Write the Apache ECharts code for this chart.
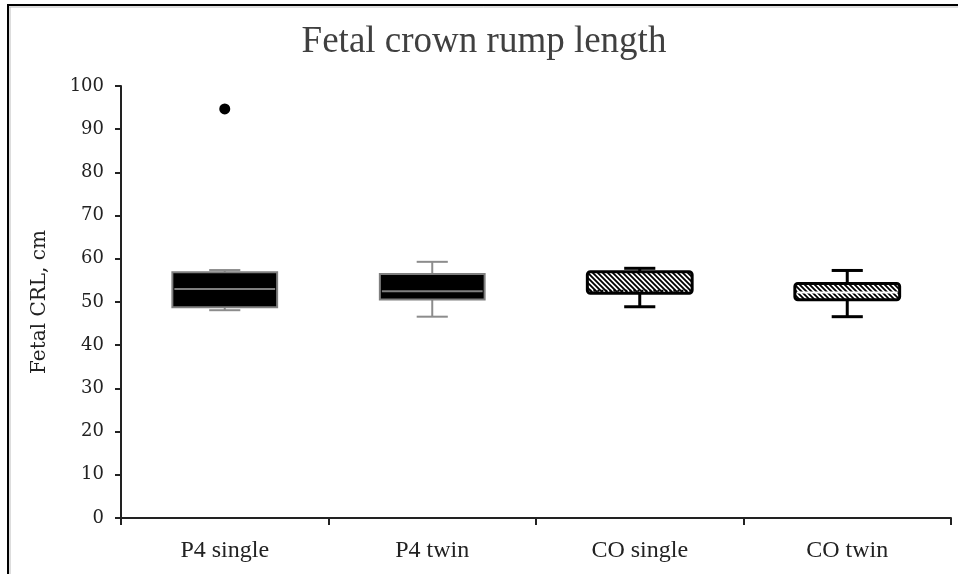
<!DOCTYPE html>
<html>
<head>
<meta charset="utf-8">
<script src="https://cdn.jsdelivr.net/npm/echarts@6/dist/echarts.min.js"></script>
<style>
html,body{margin:0;padding:0;background:#fff;}
#chart{width:958px;height:574px;}
</style>
</head>
<body>
<div id="chart"></div>
<script>
// ---- Data ----
const categories = ['P4 single', 'P4 twin', 'CO single', 'CO twin'];
const whiskerLow  = [48.1, 46.6, 48.9, 46.6];
const quartile1   = [48.8, 50.6, 52.0, 50.5];
const medians     = [53.0, 52.5, 52.6, 52.2];
const quartile3   = [56.9, 56.5, 57.0, 54.3];
const whiskerHigh = [57.4, 59.3, 57.8, 57.3];
const outliers    = [[0, 94.7]];
const yTicks = { min: 0, max: 100, interval: 10 };

// ---- Styles ----
function makeHatch() {
  const c = document.createElement('canvas');
  const s = 5;
  c.width = s; c.height = s;
  const g = c.getContext('2d');
  g.fillStyle = '#ffffff';
  g.fillRect(0, 0, s, s);
  g.strokeStyle = '#000000';
  g.lineWidth = 1.8;
  g.beginPath();
  for (let k = -1; k <= 1; k++) {
    g.moveTo(k * s - 1, -1);
    g.lineTo(k * s + s + 1, s + 1);
  }
  g.stroke();
  return c;
}
const hatch = { image: makeHatch(), repeat: 'repeat' };
const boxStyles = [
  { fill: '#000000', stroke: '#7f7f7f', lw: 2, whisker: '#8c8c8c', wlw: 2, med: '#7f7f7f', medDash: null, r: 0 },
  { fill: '#000000', stroke: '#7f7f7f', lw: 2, whisker: '#8c8c8c', wlw: 2, med: '#7f7f7f', medDash: null, r: 0 },
  { fill: hatch, stroke: '#000000', lw: 3, whisker: '#000000', wlw: 3, med: '#000000', medDash: [2, 2], r: 3 },
  { fill: hatch, stroke: '#000000', lw: 3, whisker: '#000000', wlw: 3, med: '#ffffff', medDash: null, r: 3 }
];

const boxData = categories.map((c, i) => [i, whiskerLow[i], quartile1[i], medians[i], quartile3[i], whiskerHigh[i]]);

function renderBox(params, api) {
  const i = api.value(0);
  const st = boxStyles[i];
  const band = api.size([1, 0])[0];
  const boxW = band * 0.505;
  const capW = band * 0.15;
  const cx = api.coord([i, 0])[0];
  const yLow = api.coord([i, api.value(1)])[1];
  const yQ1 = api.coord([i, api.value(2)])[1];
  const yMed = api.coord([i, api.value(3)])[1];
  const yQ3 = api.coord([i, api.value(4)])[1];
  const yHigh = api.coord([i, api.value(5)])[1];
  const wStyle = { stroke: st.whisker, lineWidth: st.wlw };
  return {
    type: 'group',
    children: [
      { type: 'line', shape: { x1: cx, y1: yHigh, x2: cx, y2: yQ3 }, style: wStyle },
      { type: 'line', shape: { x1: cx, y1: yQ1, x2: cx, y2: yLow }, style: wStyle },
      { type: 'line', shape: { x1: cx - capW / 2, y1: yHigh, x2: cx + capW / 2, y2: yHigh }, style: wStyle },
      { type: 'line', shape: { x1: cx - capW / 2, y1: yLow, x2: cx + capW / 2, y2: yLow }, style: wStyle },
      { type: 'rect', shape: { x: cx - boxW / 2, y: yQ3, width: boxW, height: yQ1 - yQ3, r: st.r },
        style: { fill: st.fill, stroke: st.stroke, lineWidth: st.lw } },
      { type: 'line', shape: { x1: cx - boxW / 2 + 2, y1: yMed, x2: cx + boxW / 2 - 2, y2: yMed },
        style: { stroke: st.med, lineWidth: 2, lineDash: st.medDash } }
    ]
  };
}

const chart = echarts.init(document.getElementById('chart'), null, { renderer: 'canvas' });
chart.setOption({
  animation: false,
  backgroundColor: '#ffffff',
  title: {
    text: 'Fetal crown rump length',
    left: 479, top: 19, textAlign: 'center',
    textStyle: { fontFamily: 'Liberation Serif', fontSize: 37, fontWeight: 'normal', color: '#404040' }
  },
  graphic: [
    { type: 'line', shape: { x1: 8, y1: 5, x2: 958, y2: 5 }, style: { stroke: '#000', lineWidth: 2 } },
    { type: 'line', shape: { x1: 8, y1: 4, x2: 8, y2: 574 }, style: { stroke: '#000', lineWidth: 2 } },
    { type: 'line', shape: { x1: 9, y1: 7, x2: 958, y2: 7 }, style: { stroke: '#bbb', lineWidth: 1 } },
    { type: 'line', shape: { x1: 10, y1: 7, x2: 10, y2: 574 }, style: { stroke: '#bbb', lineWidth: 1 } }
  ],
  grid: { left: 121, right: 7, top: 86, bottom: 56 },
  xAxis: {
    type: 'category',
    data: categories,
    boundaryGap: true,
    axisLine: { lineStyle: { color: '#222', width: 2 } },
    axisTick: { show: true, length: 7, lineStyle: { color: '#222', width: 2 } },
    axisLabel: { margin: 21, fontFamily: 'Liberation Serif', fontSize: 24, color: '#222' },
    splitLine: { show: false }
  },
  yAxis: {
    type: 'value',
    min: yTicks.min, max: yTicks.max, interval: yTicks.interval,
    name: 'Fetal CRL, cm',
    nameLocation: 'middle', nameRotate: 90, nameGap: 71,
    nameTextStyle: { fontFamily: 'DejaVu Serif', fontSize: 20, color: '#222' },
    axisLine: { show: true, lineStyle: { color: '#222', width: 2 } },
    axisTick: { show: true, length: 6, lineStyle: { color: '#222', width: 2 } },
    axisLabel: { margin: 17, fontFamily: 'DejaVu Serif', fontSize: 18, color: '#222' },
    splitLine: { show: false }
  },
  series: [
    {
      type: 'custom',
      renderItem: renderBox,
      data: boxData,
      encode: { x: 0, y: [1, 2, 3, 4, 5] },
      z: 2
    },
    {
      type: 'scatter',
      data: outliers,
      symbol: 'circle',
      symbolSize: 11,
      itemStyle: { color: '#000', opacity: 1 },
      z: 3
    }
  ]
});
</script>
</body>
</html>
